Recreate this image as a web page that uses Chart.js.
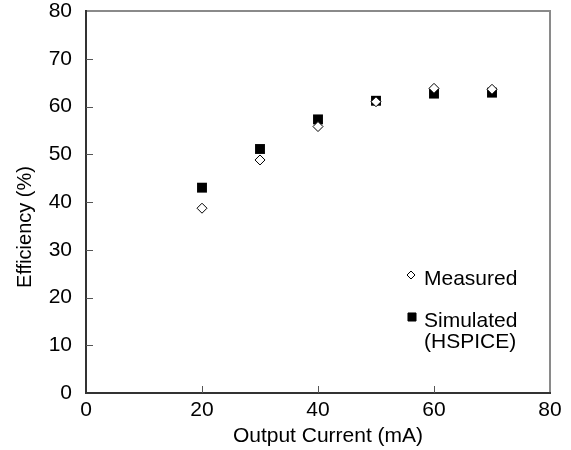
<!DOCTYPE html>
<html>
<head>
<meta charset="utf-8">
<script src="https://cdn.jsdelivr.net/npm/chart.js@4/dist/chart.umd.min.js"></script>
<style>
html,body{margin:0;padding:0;background:#fff;}
#wrap{position:relative;width:571px;height:450px;}
</style>
</head>
<body>
<div id="wrap"><canvas id="c" width="571" height="450"></canvas></div>
<script>
const currents = [20, 30, 40, 50, 60, 70];
const measured = [38.7, 48.8, 55.8, 61.0, 63.8, 63.6];
const simulated = [43.0, 51.1, 57.3, 61.2, 62.7, 62.9];
const xTicks = [0, 20, 40, 60, 80];
const yTicks = [0, 10, 20, 30, 40, 50, 60, 70, 80];
const legendLabels = [["Measured"], ["Simulated", "(HSPICE)"]];
const xTitle = "Output Current (mA)";
const yTitle = "Efficiency (%)";

const FONT = "'Liberation Sans', Arial, sans-serif";

const framePlugin = {
  id: 'frame',
  afterDatasetsDraw(chart) {
    const {ctx, chartArea: a, scales} = chart;
    ctx.save();
    ctx.strokeStyle = '#8a8a8a';
    ctx.lineWidth = 2;
    ctx.beginPath();
    ctx.moveTo(a.left, a.top); ctx.lineTo(a.right, a.top); ctx.lineTo(a.right, a.bottom);
    ctx.stroke();
    ctx.strokeStyle = '#333';
    ctx.beginPath();
    ctx.moveTo(a.left, a.top - 1); ctx.lineTo(a.left, a.bottom); ctx.lineTo(a.right + 1, a.bottom);
    ctx.stroke();
    ctx.lineWidth = 1;
    ctx.strokeStyle = '#555';
    ctx.beginPath();
    yTicks.forEach(v => {
      if (v === 0 || v === 80) return;
      const y = Math.round(scales.y.getPixelForValue(v)) + 0.5;
      ctx.moveTo(a.left, y); ctx.lineTo(a.left + 7, y);
    });
    xTicks.forEach(v => {
      if (v === 0 || v === 80) return;
      const x = Math.round(scales.x.getPixelForValue(v)) + 0.5;
      ctx.moveTo(x, a.bottom); ctx.lineTo(x, a.bottom - 7);
    });
    ctx.stroke();
    // axis titles
    ctx.fillStyle = '#000';
    ctx.textAlign = 'center';
    ctx.textBaseline = 'middle';
    ctx.font = "21px " + FONT;
    ctx.fillText(xTitle, 328, 436);
    ctx.save();
    ctx.translate(25, 227);
    ctx.rotate(-Math.PI / 2);
    ctx.font = "20px " + FONT;
    ctx.fillText(yTitle, 0, 0);
    ctx.restore();
    // legend
    ctx.textAlign = 'left';
    const ds = chart.data.datasets;
    const markers = [{x: 411, y: 275, r: 4}, {x: 412, y: 317, r: 5.7}];
    const baselines = [[285], [327, 348]];
    ctx.font = "21px " + FONT;
    ctx.textBaseline = 'alphabetic';
    ds.forEach((d, i) => {
      const m = markers[i];
      ctx.fillStyle = d.backgroundColor;
      ctx.strokeStyle = d.borderColor;
      ctx.lineWidth = 1;
      Chart.helpers.drawPoint(ctx, {pointStyle: d.pointStyle, radius: m.r, rotation: 0, borderWidth: 1}, m.x, m.y);
      ctx.fillStyle = '#000';
      legendLabels[i].forEach((t, j) => ctx.fillText(t, 424, baselines[i][j]));
    });
    ctx.restore();
  }
};

new Chart(document.getElementById('c'), {
  type: 'scatter',
  data: {
    datasets: [
      {
        label: 'Measured',
        data: currents.map((x, i) => ({x, y: measured[i]})),
        pointStyle: 'rectRot',
        pointRadius: 5,
        backgroundColor: '#fff',
        borderColor: '#000',
        borderWidth: 1,
        order: 1
      },
      {
        label: 'Simulated (HSPICE)',
        data: currents.map((x, i) => ({x, y: simulated[i]})),
        pointStyle: 'rect',
        pointRadius: 7,
        backgroundColor: '#000',
        borderColor: '#000',
        borderWidth: 0,
        order: 2
      }
    ]
  },
  options: {
    responsive: false,
    animation: false,
    events: [],
    layout: {padding: {top: 11, right: 21, left: 0, bottom: 0}},
    plugins: {legend: {display: false}, tooltip: {enabled: false}},
    scales: {
      x: {
        type: 'linear', min: 0, max: 80,
        afterBuildTicks: s => { s.ticks = xTicks.map(v => ({value: v})); },
        afterFit: s => { s.height = 57; s.paddingLeft = 0; s.paddingRight = 0; },
        grid: {display: false, drawTicks: false},
        border: {display: false},
        ticks: {color: '#000', font: {family: FONT, size: 21}, padding: 5, maxRotation: 0},
        title: {display: false}
      },
      y: {
        type: 'linear', min: 0, max: 80,
        afterBuildTicks: s => { s.ticks = yTicks.map(v => ({value: v})); },
        afterFit: s => { s.width = 86; s.paddingTop = 0; s.paddingBottom = 0; },
        grid: {display: false, drawTicks: false},
        border: {display: false},
        ticks: {color: '#000', font: {family: FONT, size: 21}, padding: 14},
        title: {display: false}
      }
    }
  },
  plugins: [framePlugin]
});
</script>
</body>
</html>
